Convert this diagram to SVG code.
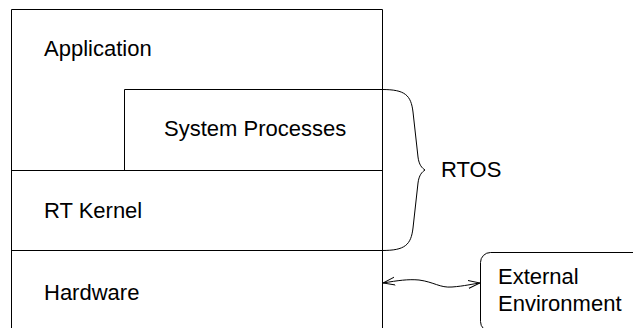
<svg xmlns="http://www.w3.org/2000/svg" width="633" height="328" viewBox="0 0 633 328">
  <style>
    .ln { fill: none; stroke: #000; stroke-width: 1; }
    .lbl { font-family: "Liberation Sans", Arial, sans-serif; font-size: 22px; fill: #000; }
  </style>
  <defs>
    <marker id="openArrow" viewBox="0 0 12 10" refX="12" refY="5" markerWidth="12" markerHeight="10" markerUnits="userSpaceOnUse" orient="auto-start-reverse">
      <path d="M0,1 L12,5 L0,9" fill="none" stroke="#000" stroke-width="1"/>
    </marker>
  </defs>
  <rect width="633" height="328" fill="#fff"/>

  <!-- layered stack -->
  <g id="application">
    <path class="ln" d="M11.5,330 V9.5 H382.5 V330"/>
    <text class="lbl" x="44" y="56">Application</text>
  </g>
  <g id="system-processes">
    <path class="ln" d="M124.5,170.5 V89.5 H382.5"/>
    <text class="lbl" x="164" y="136">System Processes</text>
  </g>
  <g id="rt-kernel">
    <path class="ln" d="M11.5,170.5 H382.5"/>
    <text class="lbl" x="44" y="218">RT Kernel</text>
  </g>
  <g id="hardware">
    <path class="ln" d="M11.5,250.5 H382.5"/>
    <text class="lbl" x="44" y="300">Hardware</text>
  </g>

  <!-- brace grouping the RTOS layers -->
  <g id="rtos">
    <path class="ln" d="M382,89.5 C405,89.5 411,95 413,112 L418,157 C419,165 422,168 425,170 C422,172 419,175 418,183 L413,228 C411,245 405,250.5 382,250.5"/>
    <text class="lbl" x="441" y="177">RTOS</text>
  </g>

  <g id="external-environment">
    <rect class="ln" x="480.5" y="252.5" width="170" height="79" rx="10" ry="10"/>
    <text class="lbl" x="498" y="284">External</text>
    <text class="lbl" x="498" y="311">Environment</text>
  </g>

  <g id="connectors">
    <path class="ln" d="M383,283 C398,280.5 408,279 419,280 C434,282 440,288 452,287 C465,286 472,284 480,283" marker-start="url(#openArrow)" marker-end="url(#openArrow)"/>
  </g>
</svg>
